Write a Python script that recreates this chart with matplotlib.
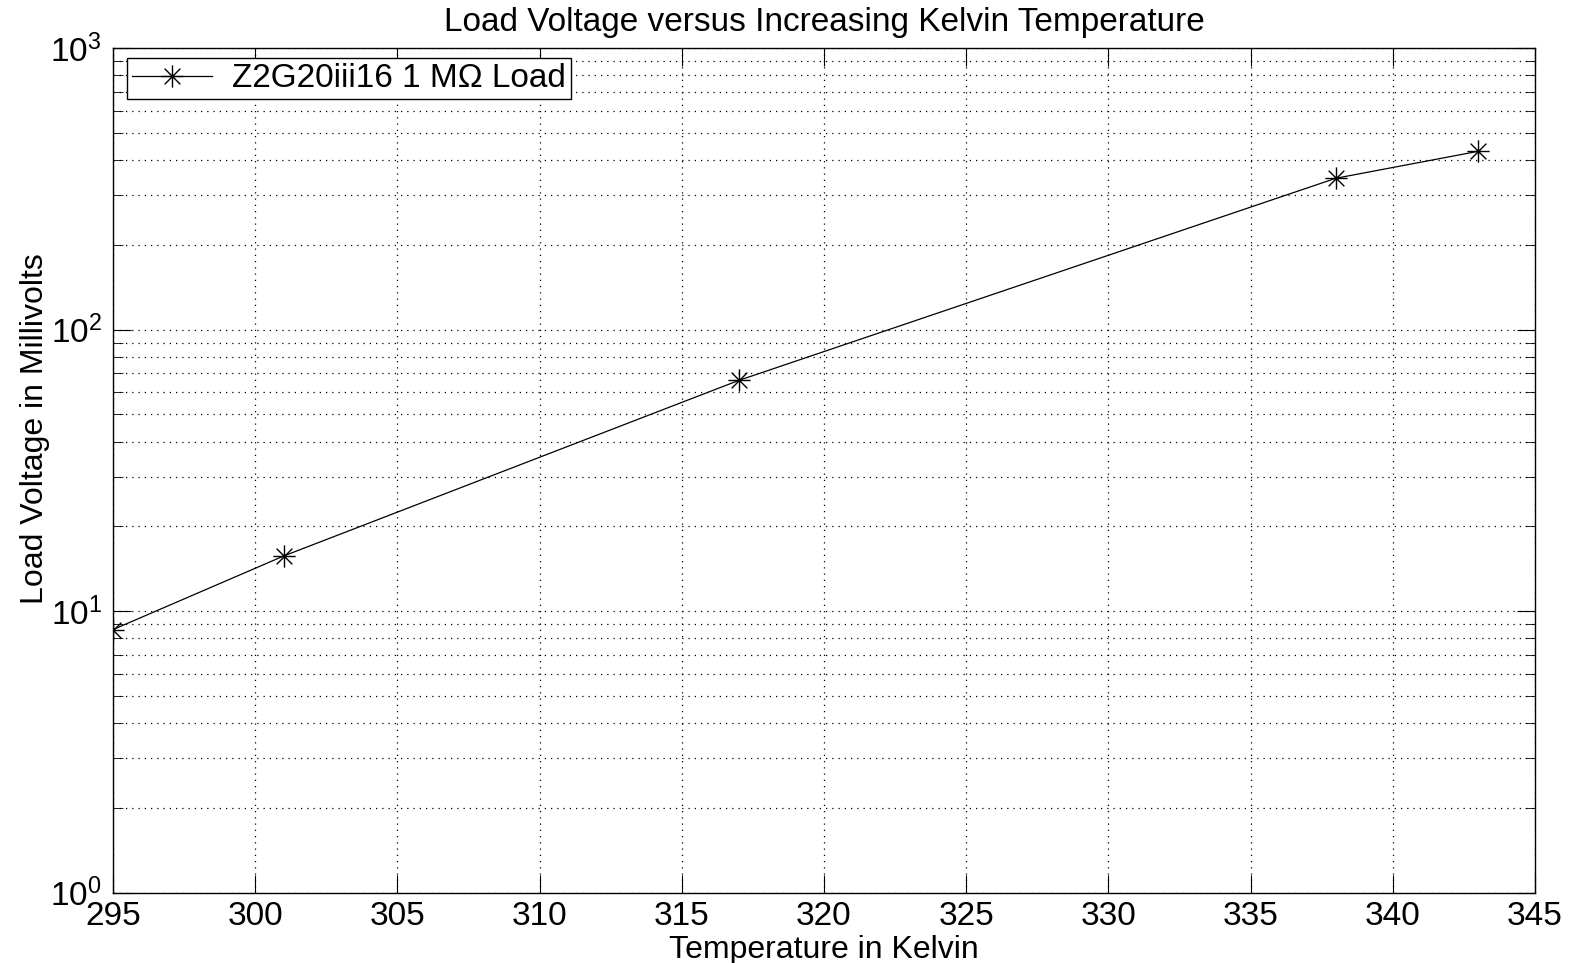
import numpy as np
import matplotlib
matplotlib.use('Agg')
from matplotlib import pyplot as plt
from matplotlib.path import Path
from matplotlib.ticker import LogLocator, NullFormatter

# data
temp_k = [295, 301, 317, 338, 343]
load_mv = [8.6, 15.7, 66, 345, 430]
series_label = 'Z2G20iii16 1 M\u03a9 Load'

plt.rcParams['font.family'] = ['Liberation Sans', 'DejaVu Sans']
plt.rcParams['mathtext.fontset'] = 'custom'
plt.rcParams['mathtext.rm'] = 'Liberation Sans'
plt.rcParams['mathtext.it'] = 'Liberation Sans'

# matlab style asterisk: + and x on top of each other
d = 0.7071
verts = [(-1, 0), (1, 0), (0, -1), (0, 1), (-d, -d), (d, d), (-d, d), (d, -d)]
codes = [Path.MOVETO, Path.LINETO] * 4
asterisk = Path(verts, codes)

fig = plt.figure(figsize=(15.73, 9.63), dpi=100)
ax = fig.add_axes([0.0718, 0.073, 0.904, 0.877])

ax.plot(temp_k, load_mv, color='black', lw=0.9, marker=asterisk,
        markersize=16, markeredgewidth=1.0, markeredgecolor='black',
        label=series_label)

ax.set_yscale('log')
ax.set_xlim(295, 345)
ax.set_ylim(1, 1000)
ax.set_xticks(np.arange(295, 346, 5))
ax.yaxis.set_major_locator(LogLocator(base=10, numticks=10))
ax.yaxis.set_minor_locator(LogLocator(base=10, subs=np.arange(2, 10), numticks=10))
ax.yaxis.set_minor_formatter(NullFormatter())

dots = (0, (1, 4))
ax.grid(True, which='major', axis='both', color='black', linestyle=dots, lw=0.9)
ax.grid(True, which='minor', axis='y', color='black', linestyle=dots, lw=0.9)

ax.tick_params(which='both', direction='in', top=True, right=True,
               labelsize=24, color='black')
ax.tick_params(axis='y', pad=8)
ax.tick_params(axis='x', pad=6)
ax.tick_params(which='major', length=13)
ax.tick_params(which='minor', length=7)
for s in ax.spines.values():
    s.set_linewidth(1.0)

ax.set_title('Load Voltage versus Increasing Kelvin Temperature', fontsize=24, pad=12)
ax.set_xlabel('Temperature in Kelvin', fontsize=23, labelpad=2)
ax.set_ylabel('Load Voltage in Millivolts', fontsize=23)
ax.yaxis.set_label_coords(-0.044, 0.55)

leg = ax.legend(loc='upper left', fontsize=24, frameon=True, fancybox=False,
                edgecolor='black', framealpha=1, handlelength=2.4,
                handletextpad=0.6, borderpad=0.15, borderaxespad=0,
                bbox_to_anchor=(0.0098, 0.988))
leg.get_frame().set_linewidth(1.0)

fig.savefig('out.png', dpi=100)
